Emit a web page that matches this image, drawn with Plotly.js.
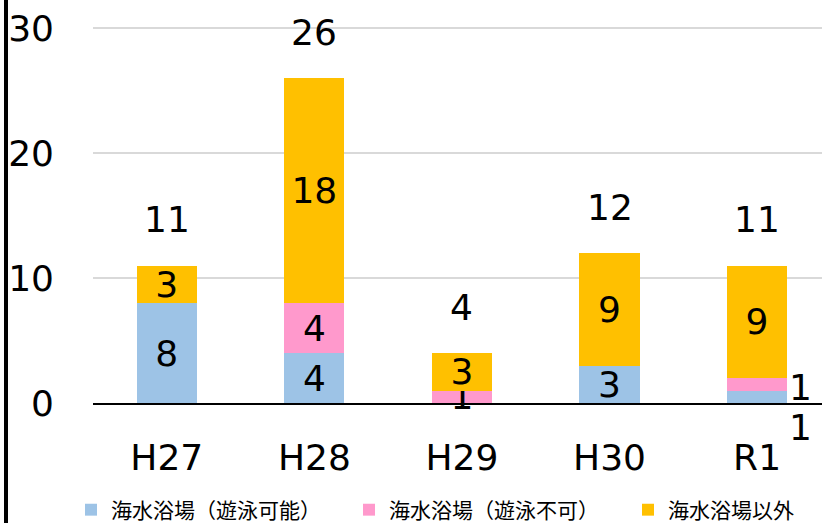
<!DOCTYPE html>
<html>
<head>
<meta charset="utf-8">
<script src="https://cdn.plot.ly/plotly-3.0.1.min.js"></script>
<style>
  html, body { margin: 0; padding: 0; background: #fff; overflow: hidden; }
  #chart { width: 822px; height: 523px; position: relative; }
  #frame { position: absolute; left: 4px; top: 0; width: 4px; height: 523px; background: #000; z-index: 5; }
</style>
</head>
<body>
<div id="frame"></div>
<div id="chart"></div>
<script>
const categories = ["H27", "H28", "H29", "H30", "R1"];
const swimOK = [8, 4, 0, 3, 1];
const swimNG = [0, 4, 1, 0, 1];
const other = [3, 18, 3, 9, 9];
const seriesNames = ["海水浴場（遊泳可能）", "海水浴場（遊泳不可）", "海水浴場以外"];
const colors = ["#9DC3E6", "#FF99CC", "#FFC000"];
const totals = categories.map((c, i) => swimOK[i] + swimNG[i] + other[i]);

const numFont = "DejaVu Sans, Verdana, sans-serif";
const labelSize = 36;

// R1's small segments get their labels beside the bar
const outsideIdx = 4;

function textFor(vals, skipIdx) {
  return vals.map((v, i) => (v === 0 || i === skipIdx) ? "" : String(v));
}

const legendIds = ["legend", "legend2", "legend3"];
const series = [swimOK, swimNG, other];
const traces = series.map((vals, k) => ({
  type: "bar",
  name: seriesNames[k],
  legend: legendIds[k],
  x: categories,
  y: vals,
  marker: { color: colors[k], line: { width: 0 } },
  text: textFor(vals, k < 2 ? outsideIdx : -1),
  textposition: "inside",
  insidetextanchor: "middle",
  constraintext: "none",
  textangle: 0,
  cliponaxis: false,
  textfont: { family: numFont, size: labelSize, color: "#000" },
  hoverinfo: "skip"
}));

const annotations = categories.map((c, i) => ({
  x: c, y: totals[i], xref: "x", yref: "y",
  text: String(totals[i]), showarrow: false,
  yshift: 46, font: { family: numFont, size: labelSize, color: "#000" }
}));
annotations.push({
  x: categories[outsideIdx], y: swimOK[outsideIdx] + swimNG[outsideIdx] / 2,
  xref: "x", yref: "y", text: String(swimNG[outsideIdx]), showarrow: false,
  xshift: 43, yshift: -3, font: { family: numFont, size: labelSize, color: "#000" }
});
annotations.push({
  x: categories[outsideIdx], y: swimOK[outsideIdx] / 2,
  xref: "x", yref: "y", text: String(swimOK[outsideIdx]), showarrow: false,
  xshift: 43, yshift: -31, font: { family: numFont, size: labelSize, color: "#000" }
});

function legendAt(px) {
  return {
    orientation: "h",
    xref: "container", yref: "container",
    x: px / 822, y: 1 - 510 / 523, xanchor: "left", yanchor: "middle",
    font: { family: "Noto Sans CJK JP, sans-serif", size: 21, color: "#000" },
    bgcolor: "rgba(0,0,0,0)",
    itemwidth: 30
  };
}

const layout = {
  width: 822, height: 523,
  margin: { l: 93, r: 0, t: 15, b: 120, pad: 0 },
  paper_bgcolor: "#fff", plot_bgcolor: "#fff",
  barmode: "stack",
  bargap: 0.593,
  showlegend: true,
  legend: legendAt(71),
  legend2: legendAt(349),
  legend3: legendAt(628),
  xaxis: {
    type: "category",
    range: [-0.5, 4.44],
    showline: true, linecolor: "#000", linewidth: 1.5,
    ticks: "", showgrid: false, zeroline: false,
    ticklabelstandoff: 22,
    tickfont: { family: numFont, size: labelSize, color: "#000" },
    fixedrange: true
  },
  yaxis: {
    range: [0, 31.04],
    tickvals: [0, 10, 20, 30],
    showgrid: true, gridcolor: "#D9D9D9", gridwidth: 1.5,
    zeroline: false, showline: false, ticks: "",
    ticklabelstandoff: 38,
    tickfont: { family: numFont, size: labelSize, color: "#000" },
    fixedrange: true
  },
  annotations: annotations
};

Plotly.newPlot("chart", traces, layout, { displayModeBar: false, staticPlot: true });
</script>
</body>
</html>
